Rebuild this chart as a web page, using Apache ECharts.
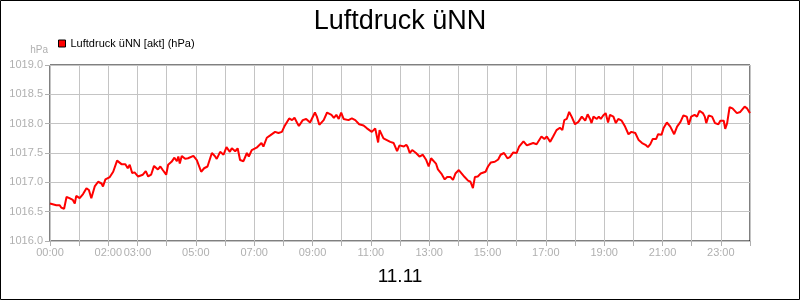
<!DOCTYPE html>
<html>
<head>
<meta charset="utf-8">
<script src="https://cdn.jsdelivr.net/npm/echarts@6/dist/echarts.min.js"></script>
<style>
html,body{margin:0;padding:0;background:#fff;}
#c{width:800px;height:300px;}
</style>
</head>
<body>
<div id="c"></div>
<script>
const chartTitle = 'Luftdruck üNN';
const seriesName = 'Luftdruck üNN [akt] (hPa)';
const dateLabel = '11.11';
const unitLabel = 'hPa';
const xTickLabels = ['00:00','02:00','03:00','05:00','07:00','09:00','11:00','13:00','15:00','17:00','19:00','21:00','23:00'];
const minutes = [0,4,13,20,23,29,34,40,47,51,54,61,68,75,80,85,92,99,106,109,114,123,130,138,147,155,160,164,169,174,181,191,197,202,208,214,222,227,232,236,239,
243,250,256,261,264,267,271,278,284,295,302,311,317,324,333,339,343,350,357,363,370,374,381,386,391,398,405,409,415,425,435,439,446,453,456,463,470,477,482,
484,492,498,503,508,512,520,527,531,535,545,549,554,563,570,579,584,589,594,599,604,614,621,628,636,645,652,662,669,675,678,686,693,700,707,714,719,
723,728,733,736,740,745,753,760,767,774,779,784,794,798,805,812,817,824,829,834,841,847,853,860,865,870,874,880,886,896,901,907,915,922,927,934,941,946,953,957,
960,965,974,981,987,994,1001,1011,1017,1022,1029,1035,1042,1049,1054,1058,1063,1068,1073,1080,1087,1094,1101,1106,1111,1114,1118,1125,1129,1133,1138,1143,1148,1152,1159,1164,1169,1176,1183,1190,1196,
1204,1211,1218,1225,1230,1235,1240,1247,1251,1258,1262,1269,1276,1284,1290,1297,1303,1310,1314,1319,1326,1331,1336,1343,1347,1350,1355,1362,1368,1375,1379,1386,1389,1393,1398,1404,1408,1413,1420,1423,1429,1434,1440];
const pressure = [1016.64,1016.64,1016.61,1016.61,1016.57,1016.55,1016.75,1016.73,1016.70,1016.64,1016.77,1016.73,1016.80,1016.90,1016.87,1016.73,1016.93,1017.01,1016.98,1016.93,1017.05,1017.09,1017.18,1017.37,1017.31,1017.31,1017.24,1017.30,1017.16,1017.17,1017.10,1017.13,1017.19,1017.10,1017.13,1017.28,1017.22,1017.27,1017.21,1017.24,1017.13,
1017.30,1017.35,1017.42,1017.36,1017.44,1017.32,1017.45,1017.40,1017.41,1017.45,1017.38,1017.18,1017.24,1017.27,1017.50,1017.45,1017.40,1017.52,1017.47,1017.60,1017.52,1017.58,1017.53,1017.58,1017.38,1017.36,1017.50,1017.44,1017.55,1017.59,1017.67,1017.61,1017.76,1017.80,1017.78,1017.86,1017.84,1017.86,1017.95,
1017.98,1018.09,1018.06,1018.10,1018.02,1017.96,1018.06,1018.08,1018.10,1018.02,1018.19,1018.12,1017.98,1018.06,1018.19,1018.15,1018.10,1018.15,1018.08,1018.19,1018.08,1018.06,1018.09,1018.06,1017.99,1017.97,1017.92,1017.86,1017.92,1017.68,1017.89,1017.75,1017.72,1017.69,1017.67,1017.53,1017.63,
1017.64,1017.61,1017.64,1017.60,1017.50,1017.55,1017.50,1017.44,1017.47,1017.38,1017.27,1017.41,1017.32,1017.22,1017.15,1017.05,1017.09,1017.09,1017.04,1017.15,1017.21,1017.15,1017.09,1017.03,1017.01,1016.90,1017.09,1017.10,1017.15,1017.18,1017.27,1017.34,1017.35,1017.39,1017.47,1017.50,1017.41,1017.43,1017.51,1017.54,
1017.50,1017.61,1017.70,1017.63,1017.65,1017.67,1017.65,1017.78,1017.74,1017.78,1017.69,1017.78,1017.89,1017.93,1017.89,1018.06,1018.08,1018.20,1018.12,1017.99,1018.03,1018.12,1018.05,1018.16,1018.08,1018.01,1018.12,1018.08,1018.12,1018.08,1018.14,1018.18,1018.02,1018.15,1018.12,1018.01,1018.08,1018.05,1017.95,1017.82,1017.86,
1017.84,1017.72,1017.67,1017.64,1017.60,1017.65,1017.74,1017.74,1017.82,1017.81,1017.92,1018.02,1017.95,1017.82,1017.95,1018.03,1018.14,1018.12,1017.98,1018.12,1018.15,1018.12,1018.22,1018.18,1018.12,1018.01,1018.14,1018.12,1018.01,1017.99,1018.05,1018.05,1017.91,1018.01,1018.28,1018.26,1018.27,1018.18,1018.20,1018.19,1018.29,1018.26,1018.18];

const FONT = "'Liberation Sans', Arial, sans-serif";
const GRAY = '#b0b0b0';
const GRIDC = '#c4c4c4';

function fmtTime(m){
  const h = Math.floor(m/60), mm = Math.round(m%60);
  return String(h).padStart(2,'0') + ':' + String(mm).padStart(2,'0');
}

const chart = echarts.init(document.getElementById('c'), null, {renderer:'canvas'});
chart.setOption({
  animation: false,
  backgroundColor: '#fff',
  title: {
    text: chartTitle, left: 'center', top: 3,
    textStyle: {fontFamily: FONT, fontSize: 27, fontWeight: 'normal', color: '#000'}
  },
  legend: {
    left: 58, top: 38, padding: 0, itemWidth: 7, itemHeight: 7, icon: 'rect',
    data: [{name: seriesName, itemStyle: {color: '#ff0000', borderColor: '#000', borderWidth: 1}}],
    textStyle: {fontFamily: FONT, fontSize: 11, color: '#000'}
  },
  grid: {left: 50, right: 50, top: 65, bottom: 59, show: true, borderColor: '#000', borderWidth: 1, containLabel: false},
  xAxis: {
    type: 'value', min: 0, max: 1440, interval: 60,
    axisLine: {show: false},
    axisTick: {show: true, length: 5, lineStyle: {color: GRAY}},
    axisLabel: {
      margin: 6, color: GRAY, fontFamily: FONT, fontSize: 11,
      formatter: v => { const t = fmtTime(v); return xTickLabels.includes(t) ? t : ''; }
    },
    splitLine: {show: true, lineStyle: {color: GRIDC, width: 1}}
  },
  yAxis: {
    type: 'value', min: 1016, max: 1019, interval: 0.5,
    axisLine: {show: false},
    axisTick: {show: true, length: 5, lineStyle: {color: GRAY}},
    axisLabel: {margin: 7, color: GRAY, fontFamily: FONT, fontSize: 11, formatter: v => v.toFixed(1)},
    splitLine: {show: true, lineStyle: {color: GRIDC, width: 1}}
  },
  series: [{
    name: seriesName, type: 'line', showSymbol: false, symbol: 'none',
    color: '#ff0000',
    lineStyle: {color: '#ff0000', width: 2},
    data: minutes.map((m, i) => [m, pressure[i]])
  }],
  graphic: [
    {type: 'rect', shape: {x: 0.5, y: 0.5, width: 799, height: 299}, style: {fill: 'none', stroke: '#000', lineWidth: 1}, z: 100},
    {type: 'text', x: 48, y: 50, style: {text: unitLabel, fill: GRAY, font: "10px 'Liberation Sans', Arial, sans-serif", align: 'right', verticalAlign: 'middle'}},
    {type: 'text', x: 400, y: 277, style: {text: dateLabel, fill: '#000', font: "19px 'Liberation Sans', Arial, sans-serif", align: 'center', verticalAlign: 'middle'}}
  ]
});
</script>
</body>
</html>
